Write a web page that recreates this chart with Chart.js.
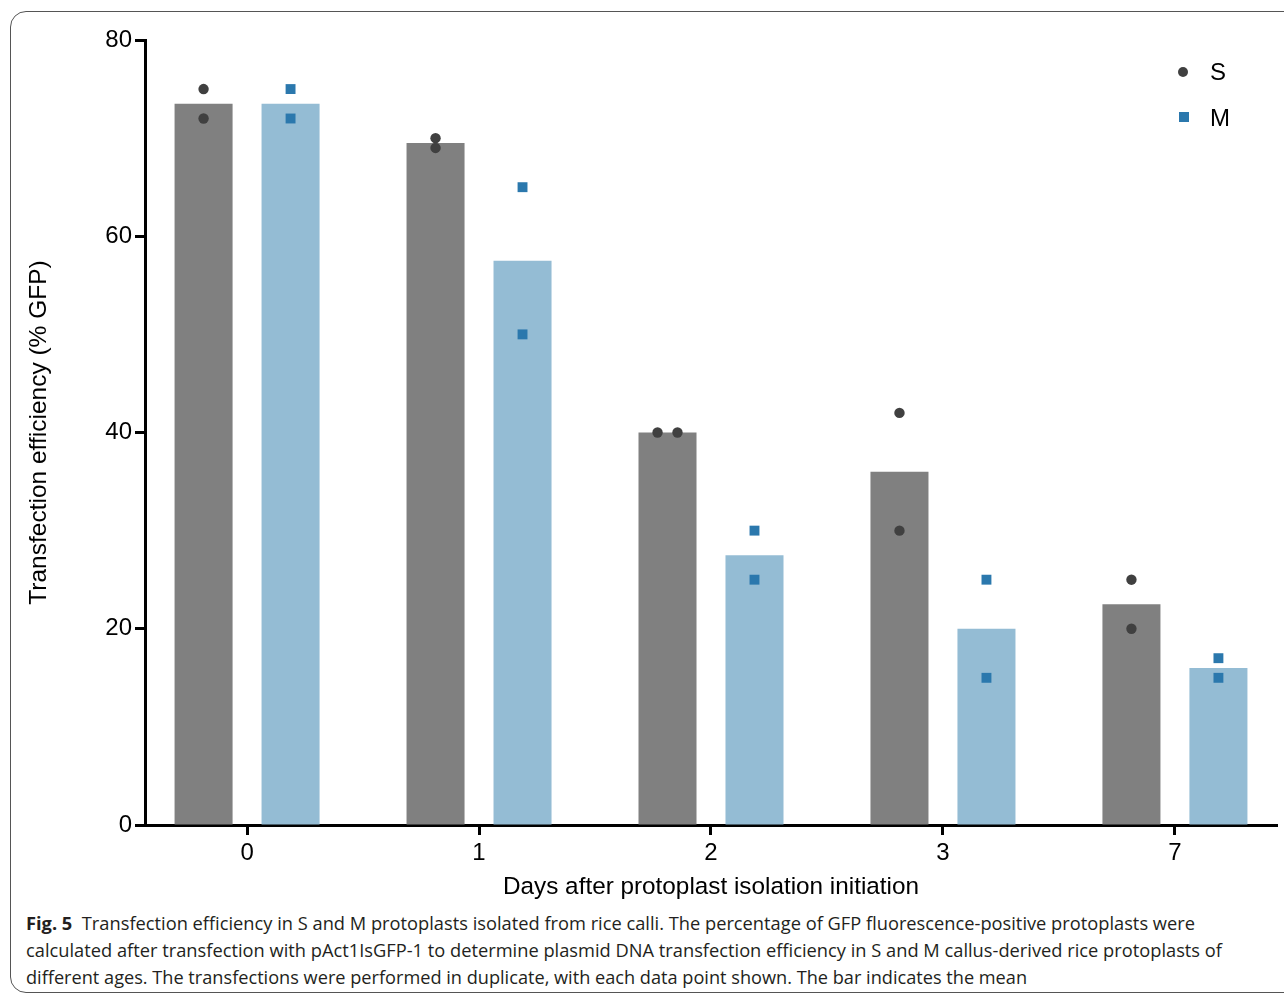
<!DOCTYPE html>
<html>
<head>
<meta charset="utf-8">
<script src="https://cdn.jsdelivr.net/npm/chart.js@4/dist/chart.umd.min.js"></script>
<style>
  html, body { margin: 0; padding: 0; background: #fff; }
  body { width: 1284px; height: 995px; position: relative; overflow: hidden; }
  #frame { position: absolute; left: 10px; top: 11px; width: 1300px; height: 982px;
           border: 1.5px solid #555; border-radius: 16px; box-sizing: border-box; }
  #chart { position: absolute; left: 0; top: 0; }
  .leg { position: absolute; font-family: "Liberation Sans", Arial, sans-serif; font-size: 24px; color: #000; line-height: 24px; }
  .mk { position: absolute; }
  #caption { position: absolute; left: 26px; top: 910px; font-family: "Open Sans", "Noto Sans", sans-serif;
             font-size: 18px; line-height: 27px; color: #231f20; white-space: nowrap; }
  #caption .ln { display: block; transform-origin: 0 50%; width: max-content; }
</style>
</head>
<body>
<div id="frame"></div>
<canvas id="chart" width="1284" height="905"></canvas>
<div class="mk" style="left:1178px; top:67px; width:10px; height:10px; border-radius:50%; background:#404040;"></div>
<div class="leg" style="left:1210px; top:60px;">S</div>
<div class="mk" style="left:1179px; top:112px; width:10px; height:10px; background:#2b78ad;"></div>
<div class="leg" style="left:1210px; top:106px;">M</div>
<div id="caption">
  <span class="ln" data-w="1169"><b>Fig. 5</b>&nbsp; Transfection efficiency in S and M protoplasts isolated from rice calli. The percentage of GFP fluorescence-positive protoplasts were</span>
  <span class="ln" data-w="1196">calculated after transfection with pAct1IsGFP-1 to determine plasmid DNA transfection efficiency in S and M callus-derived rice protoplasts of</span>
  <span class="ln" data-w="1001">different ages. The transfections were performed in duplicate, with each data point shown. The bar indicates the mean</span>
</div>
<script>
// ---- data ----
const dayLabels = ['0', '1', '2', '3', '7'];
const sMean = [73.5, 69.5, 40, 36, 22.5];
const mMean = [73.5, 57.5, 27.5, 20, 16];
const sRep1 = [75, 70, 40, 42, 25];
const sRep2 = [72, 69, 40, 30, 20];
const mRep1 = [75, 65, 30, 25, 17];
const mRep2 = [72, 50, 25, 15, 15];
const yTickValues = [0, 20, 40, 60, 80];

// ---- layout helpers ----
const categoryPct = 0.75;
const barPct = 0.667;
const groupOffset = categoryPct / 4;   // centre of each bar within the group
const jitter = 0.043;                  // horizontal spread for identical replicates

function barData(vals) { return vals.map((v, i) => ({ x: i, y: v })); }
function repData(r1, r2, side) {
  const pts = [];
  r1.forEach((v, i) => {
    const same = r1[i] === r2[i];
    const cx = i + side * groupOffset;
    pts.push({ x: cx - (same ? jitter : 0), y: r1[i] });
    pts.push({ x: cx + (same ? jitter : 0), y: r2[i] });
  });
  return pts;
}

const axisFont = { family: '"Liberation Sans", Arial, sans-serif', size: 24 };

new Chart(document.getElementById('chart'), {
  type: 'bar',
  data: {
    datasets: [
      { type: 'scatter', label: 'S', data: repData(sRep1, sRep2, -1), backgroundColor: '#404040', borderColor: '#404040',
        pointStyle: 'circle', pointRadius: 5.2, pointBorderWidth: 0, order: 0 },
      { type: 'scatter', label: 'M', data: repData(mRep1, mRep2, 1), backgroundColor: '#2b78ad', borderColor: '#2b78ad',
        pointStyle: 'rect', pointRadius: 7, pointBorderWidth: 0, order: 0 },
      { label: 'S mean', data: barData(sMean), backgroundColor: '#808080', categoryPercentage: categoryPct, barPercentage: barPct, order: 1 },
      { label: 'M mean', data: barData(mMean), backgroundColor: '#94bcd4', categoryPercentage: categoryPct, barPercentage: barPct, order: 1 }
    ]
  },
  options: {
    responsive: false,
    animation: false,
    devicePixelRatio: 1,
    layout: { padding: { left: 0, right: 7, top: 40, bottom: 0 } },
    plugins: { legend: { display: false }, tooltip: { enabled: false } },
    scales: {
      x: {
        type: 'linear',
        offset: false,
        min: -0.44, max: 4.44,
        afterFit: s => { s.height = 80; },
        afterBuildTicks: s => { s.ticks = dayLabels.map((_, i) => ({ value: i })); },
        ticks: { callback: v => dayLabels[v], font: axisFont, color: '#000', padding: 4, maxRotation: 0, autoSkip: false },
        grid: { offset: false, drawOnChartArea: false, drawTicks: true, tickLength: 10, tickWidth: 3, tickColor: '#000' },
        border: { display: true, color: '#000', width: 3 },
        title: { display: true, text: 'Days after protoplast isolation initiation', font: { family: '"Liberation Sans", Arial, sans-serif', size: 24.3 },
                 color: '#000', padding: { top: 0, bottom: 3 } }
      },
      y: {
        min: 0, max: 80,
        afterFit: s => { s.width = 145; },
        afterBuildTicks: s => { s.ticks = yTickValues.map(v => ({ value: v })); },
        ticks: { font: axisFont, color: '#000', padding: 3 },
        grid: { drawOnChartArea: false, drawTicks: true, tickLength: 10, tickWidth: 3, tickColor: '#000' },
        border: { display: true, color: '#000', width: 3 },
        title: { display: true, text: 'Transfection efficiency (% GFP)', font: { family: '"Liberation Sans", Arial, sans-serif', size: 24.5 },
                 color: '#000', padding: { top: 25, bottom: 0 } }
      }
    }
  }
});

// fit caption lines to their widths in the reference
document.querySelectorAll('#caption .ln').forEach(el => {
  const w = el.getBoundingClientRect().width;
  const target = parseFloat(el.dataset.w);
  el.style.transform = 'scaleX(' + (target / w).toFixed(4) + ')';
});
</script>
</body>
</html>
